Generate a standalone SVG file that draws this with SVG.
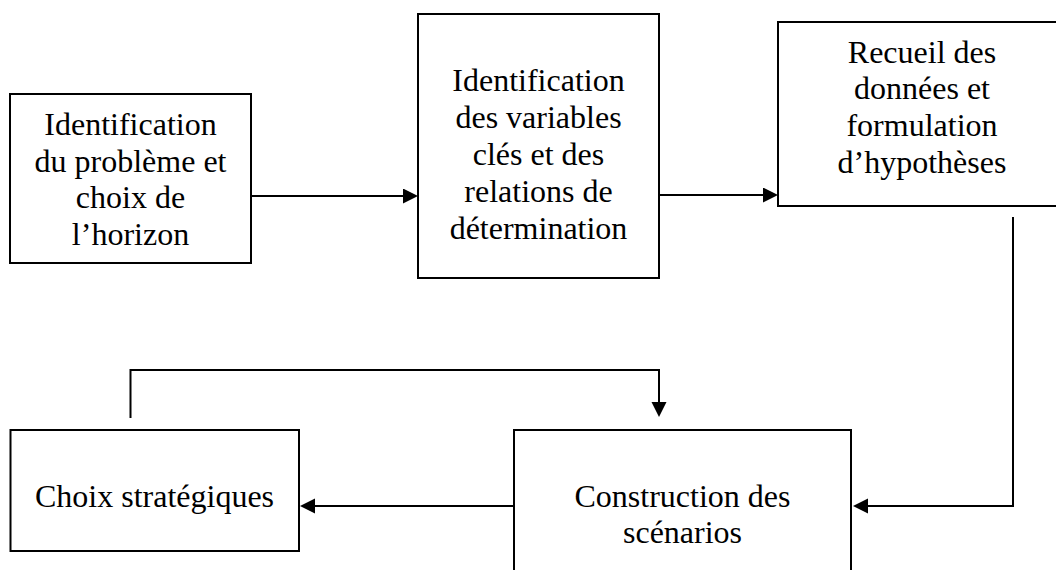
<svg xmlns="http://www.w3.org/2000/svg" width="1056" height="570" viewBox="0 0 1056 570">
<style>
.box{fill:#fff;stroke:#000;stroke-width:2}
.lbl{font-family:"Liberation Serif","Times New Roman",serif;font-size:32px;fill:#000;text-anchor:middle}
.con{fill:none;stroke:#000;stroke-width:2}
</style>
<defs>
<marker id="ah" markerUnits="userSpaceOnUse" markerWidth="16" markerHeight="16" refX="5" refY="7.5" orient="auto">
<path d="M0,0 L15,7.5 L0,15 z" fill="#000"/>
</marker>
</defs>
<rect width="1056" height="570" fill="#fff"/>
<g id="n1">
<rect class="box" x="10" y="94" width="241" height="169"/>
<text class="lbl" x="130.5" y="135">Identification</text>
<text class="lbl" x="130.5" y="172">du problème et</text>
<text class="lbl" x="130.5" y="208">choix de</text>
<text class="lbl" x="130.5" y="245">l’horizon</text>
</g>
<g id="n2">
<rect class="box" x="418" y="14" width="241" height="264"/>
<text class="lbl" x="538.5" y="91">Identification</text>
<text class="lbl" x="538.5" y="128">des variables</text>
<text class="lbl" x="538.5" y="165">clés et des</text>
<text class="lbl" x="538.5" y="202">relations de</text>
<text class="lbl" x="538.5" y="239">détermination</text>
</g>
<g id="n3">
<rect class="box" x="778" y="22" width="290" height="184"/>
<text class="lbl" x="922" y="63">Recueil des</text>
<text class="lbl" x="922" y="99">données et</text>
<text class="lbl" x="922" y="136">formulation</text>
<text class="lbl" x="922" y="173">d’hypothèses</text>
</g>
<g id="n4">
<rect class="box" x="10.5" y="430" width="288.5" height="121"/>
<text class="lbl" x="154.5" y="507">Choix stratégiques</text>
</g>
<g id="n5">
<rect class="box" x="514" y="430" width="337" height="170"/>
<text class="lbl" x="682.5" y="507">Construction des</text>
<text class="lbl" x="682.5" y="543">scénarios</text>
</g>
<g id="connectors">
<path class="con" d="M251,196 H408" marker-end="url(#ah)"/>
<path class="con" d="M659,195 H768" marker-end="url(#ah)"/>
<path class="con" d="M1013,217 V506 H863" marker-end="url(#ah)"/>
<path class="con" d="M514,506 H310" marker-end="url(#ah)"/>
<path class="con" d="M130.5,418 V370 H659 V407" marker-end="url(#ah)"/>
</g>
</svg>
